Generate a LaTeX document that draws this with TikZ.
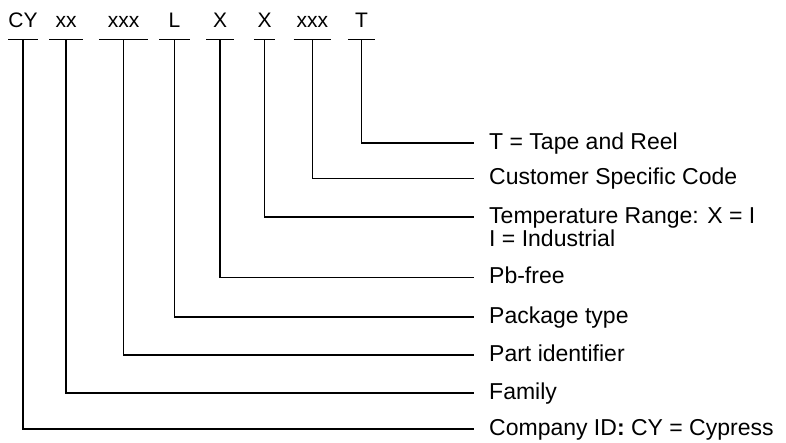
\documentclass[tikz,border=0pt]{standalone}
\usepackage{fontspec}
\setmainfont{Liberation Sans}
\usetikzlibrary{positioning}

\tikzset{
  field/.style={inner sep=0pt, anchor=base, text height=15pt, text depth=12pt, font=\fontsize{21}{24}\selectfont},
  meaning/.style={inner sep=0pt, anchor=west, text height=12.6pt, text depth=0pt, font=\fontsize{23}{26}\selectfont},
  bar/.style={line width=1.6pt},
  lead/.style={line width=1.6pt, shorten >=15pt},
}

\begin{document}
\begin{tikzpicture}[x=1pt, y=-1pt]
  \useasboundingbox (0,0) rectangle (786,442);

  % fields of the part number
  \node[field, minimum width=27pt](cy) at (23,27.3){CY};
  \node[field, minimum width=33pt](xx) at (66,27.3){xx};
  \node[field, minimum width=49pt](xxxa) at (123.5,27.3){xxx};
  \node[field, minimum width=30pt](l) at (174.5,27.3){L};
  \node[field, minimum width=27pt](xa) at (220,27.3){X};
  \node[field, minimum width=21pt](xb) at (264.5,27.3){X};
  \node[field, minimum width=37pt](xxxb) at (312.3,27.3){xxx};
  \node[field, minimum width=27pt](t) at (361.5,27.3){T};

  \foreach \f in {cy,xx,xxxa,l,xa,xb,xxxb,t}
    \draw[bar] (\f.south west) -- (\f.south east);

  % meanings
  \node[meaning](tape) at (489,142.7){T = Tape and Reel};
  \node[meaning](cust) at (489,178.3){Customer Specific Code};
  \node[meaning](temp) at (489,216.7){Temperature Range: X = I};
  \node[meaning, below=10.8pt of temp.south west, anchor=north west](ind){I = Industrial};
  \node[meaning](pbfree) at (489,277.3){Pb-free};
  \node[meaning](pkg) at (489,317){Package type};
  \node[meaning](part) at (489,355){Part identifier};
  \node[meaning](family) at (489,393){Family};
  \node[meaning](company) at (489,429){Company ID\textbf{:} CY = Cypress};

  \draw[lead] (t.south) |- (tape.west);
  \draw[lead] (xxxb.south) |- (cust.west);
  \draw[lead] (xb.south) |- (temp.west);
  \draw[lead] (xa.south) |- (pbfree.west);
  \draw[lead] (l.south) |- (pkg.west);
  \draw[lead] (xxxa.south) |- (part.west);
  \draw[lead] (xx.south) |- (family.west);
  \draw[lead] (cy.south) |- (company.west);
\end{tikzpicture}
\end{document}
